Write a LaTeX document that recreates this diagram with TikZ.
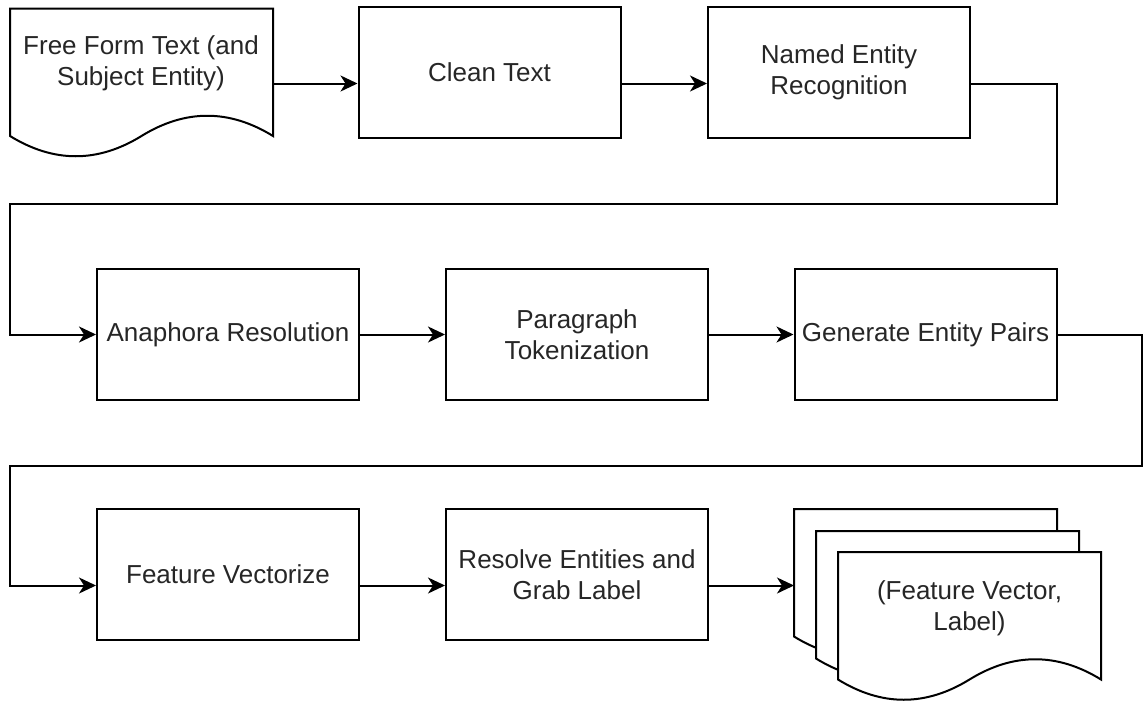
\documentclass[tikz,border=0pt]{standalone}
\usepackage{fontspec}
\setmainfont{Liberation Sans}
\usetikzlibrary{arrows.meta,calc}
\tikzset{
  txt/.style={font=\fontsize{26}{31}\selectfont, text=black!85},
  box/.style={txt, draw, line width=2pt, minimum width=262pt, minimum height=131pt, inner sep=0pt, align=center},
  lbl/.style={txt, align=center, inner sep=0pt},
  hold/.style={inner sep=0pt, outer sep=0pt},
  page/.style={draw, fill=white, line width=2pt},
  arr/.style={line width=2pt, -{Stealth[length=17pt,width=16pt,inset=5pt]}},
  docpage/.pic={
    \draw[page] (0,0) -- (263,0) -- (263,127.5)
      .. controls (219.2,100.5) and (175.3,100.5) .. (131.5,127.5)
      .. controls (87.7,154.5) and (43.8,154.5) .. (0,127.5) -- cycle;
  }
}
\begin{document}
\begin{tikzpicture}[x=1pt,y=-1pt]
\useasboundingbox (0,0) rectangle (1143,704);
% row 1
\node[hold, minimum width=263pt, minimum height=150pt] (src) at (141.5,83.5) {};
\pic at (src.north west) {docpage};
\node[lbl] (srct) at (141,63) {Free Form Text (and\\Subject Entity)};
\node[box] (clean) at (489.5,72.5) {Clean Text};
\node[box] (ner) at (839,72.5) {Named Entity\\Recognition};
% row 2
\node[box] (ana) at (228,334.5) {Anaphora Resolution};
\node[box] (para) at (577,334.5) {Paragraph\\Tokenization};
\node[box] (gep) at (925.5,334.5) {Generate Entity Pairs};
% row 3
\node[box] (fv) at (228,574.5) {Feature Vectorize};
\node[box] (res) at (577,574.5) {Resolve Entities and\\Grab Label};
\node[hold, minimum width=307pt, minimum height=193pt] (out) at (947.5,605.5) {};
\pic at (out.north west) {docpage};
\pic at ($(out.north west)+(22,22)$) {docpage};
\pic at ($(out.north west)+(44,43)$) {docpage};
\node[lbl] (outt) at (969.5,608) {(Feature Vector,\\Label)};
% connectors
\coordinate (k1) at (1057,204);
\coordinate (k2) at (10,204);
\coordinate (k3) at (1141.5,466);
\coordinate (k4) at (10,466);
\coordinate (r3) at (0,585.5);
\draw[arr] (src.east) -- (src.east -| clean.west);
\draw[arr] (src.east -| clean.east) -- (src.east -| ner.west);
\draw[arr] (src.east -| ner.east) -| (k1) -- (k2) |- (ana.west);
\draw[arr] (ana.east) -- (para.west);
\draw[arr] (para.east) -- (gep.west);
\draw[arr] (gep.east) -| (k3) -- (k4) |- (r3 -| fv.west);
\draw[arr] (r3 -| fv.east) -- (r3 -| res.west);
\draw[arr] (r3 -| res.east) -- (r3 -| out.west);
\end{tikzpicture}
\end{document}
